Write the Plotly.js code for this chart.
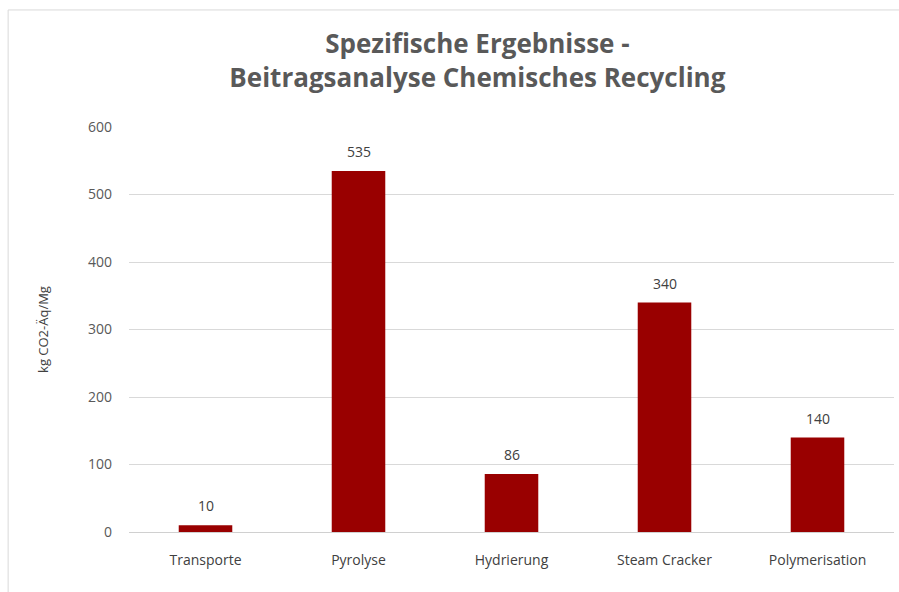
<!DOCTYPE html>
<html>
<head>
<meta charset="utf-8">
<script src="https://cdn.plot.ly/plotly-3.0.1.min.js"></script>
<style>html,body{margin:0;padding:0;background:#fff;}#chart{width:899px;height:592px;}</style>
</head>
<body>
<div id="chart"></div>
<script>
const categories = ["Transporte", "Pyrolyse", "Hydrierung", "Steam Cracker", "Polymerisation"];
const values = [10, 535, 86, 340, 140];
const labels = ["10", "535", "86", "340", "140"];

const FONT = "'Open Sans', 'Liberation Sans', sans-serif";

const trace = {
  type: "bar",
  x: categories,
  y: values,
  marker: {color: "#990000"},
  hoverinfo: "x+y"
};

const annotations = categories.map((c, i) => ({
  x: c, y: values[i], xref: "x", yref: "y",
  text: labels[i], showarrow: false,
  yanchor: "bottom", yshift: 8,
  font: {family: FONT, size: 14, color: "#404040"}
}));

const layout = {
  width: 899,
  height: 592,
  margin: {l: 129, r: 5, t: 127, b: 60},
  paper_bgcolor: "#ffffff",
  plot_bgcolor: "#ffffff",
  showlegend: false,
  bargap: 0.65,
  title: {
    text: "<b>Spezifische Ergebnisse -<br>Beitragsanalyse Chemisches Recycling</b>",
    font: {family: FONT, size: 26, color: "#595959"},
    x: 0.531, xref: "container", xanchor: "center",
    y: 0.91, yref: "container", yanchor: "top"
  },
  annotations: annotations,
  xaxis: {
    showgrid: false,
    showline: false,
    zeroline: false,
    ticks: "",
    tickfont: {family: FONT, size: 14, color: "#404040"},
    ticklabelstandoff: 18
  },
  yaxis: {
    range: [0, 600],
    tickvals: [0, 100, 200, 300, 400, 500, 600],
    showgrid: true,
    gridcolor: "#d9d9d9",
    gridwidth: 1,
    zeroline: true,
    zerolinecolor: "#d0d0d0",
    zerolinewidth: 1,
    showline: false,
    ticks: "",
    tickfont: {family: FONT, size: 14, color: "#595959"},
    ticklabelstandoff: 16,
    title: {
      text: "kg CO2-Äq/Mg",
      font: {family: FONT, size: 13, color: "#404040"},
      standoff: 36
    }
  },
  shapes: [{
    type: "rect",
    xref: "paper", yref: "paper",
    x0: -0.158, x1: 1.2, y0: -0.3, y1: 1.289,
    line: {color: "#d9d9d9", width: 1},
    fillcolor: "rgba(0,0,0,0)",
    layer: "below"
  }]
};

Plotly.newPlot("chart", [trace], layout, {displayModeBar: false, staticPlot: true});
</script>
</body>
</html>
